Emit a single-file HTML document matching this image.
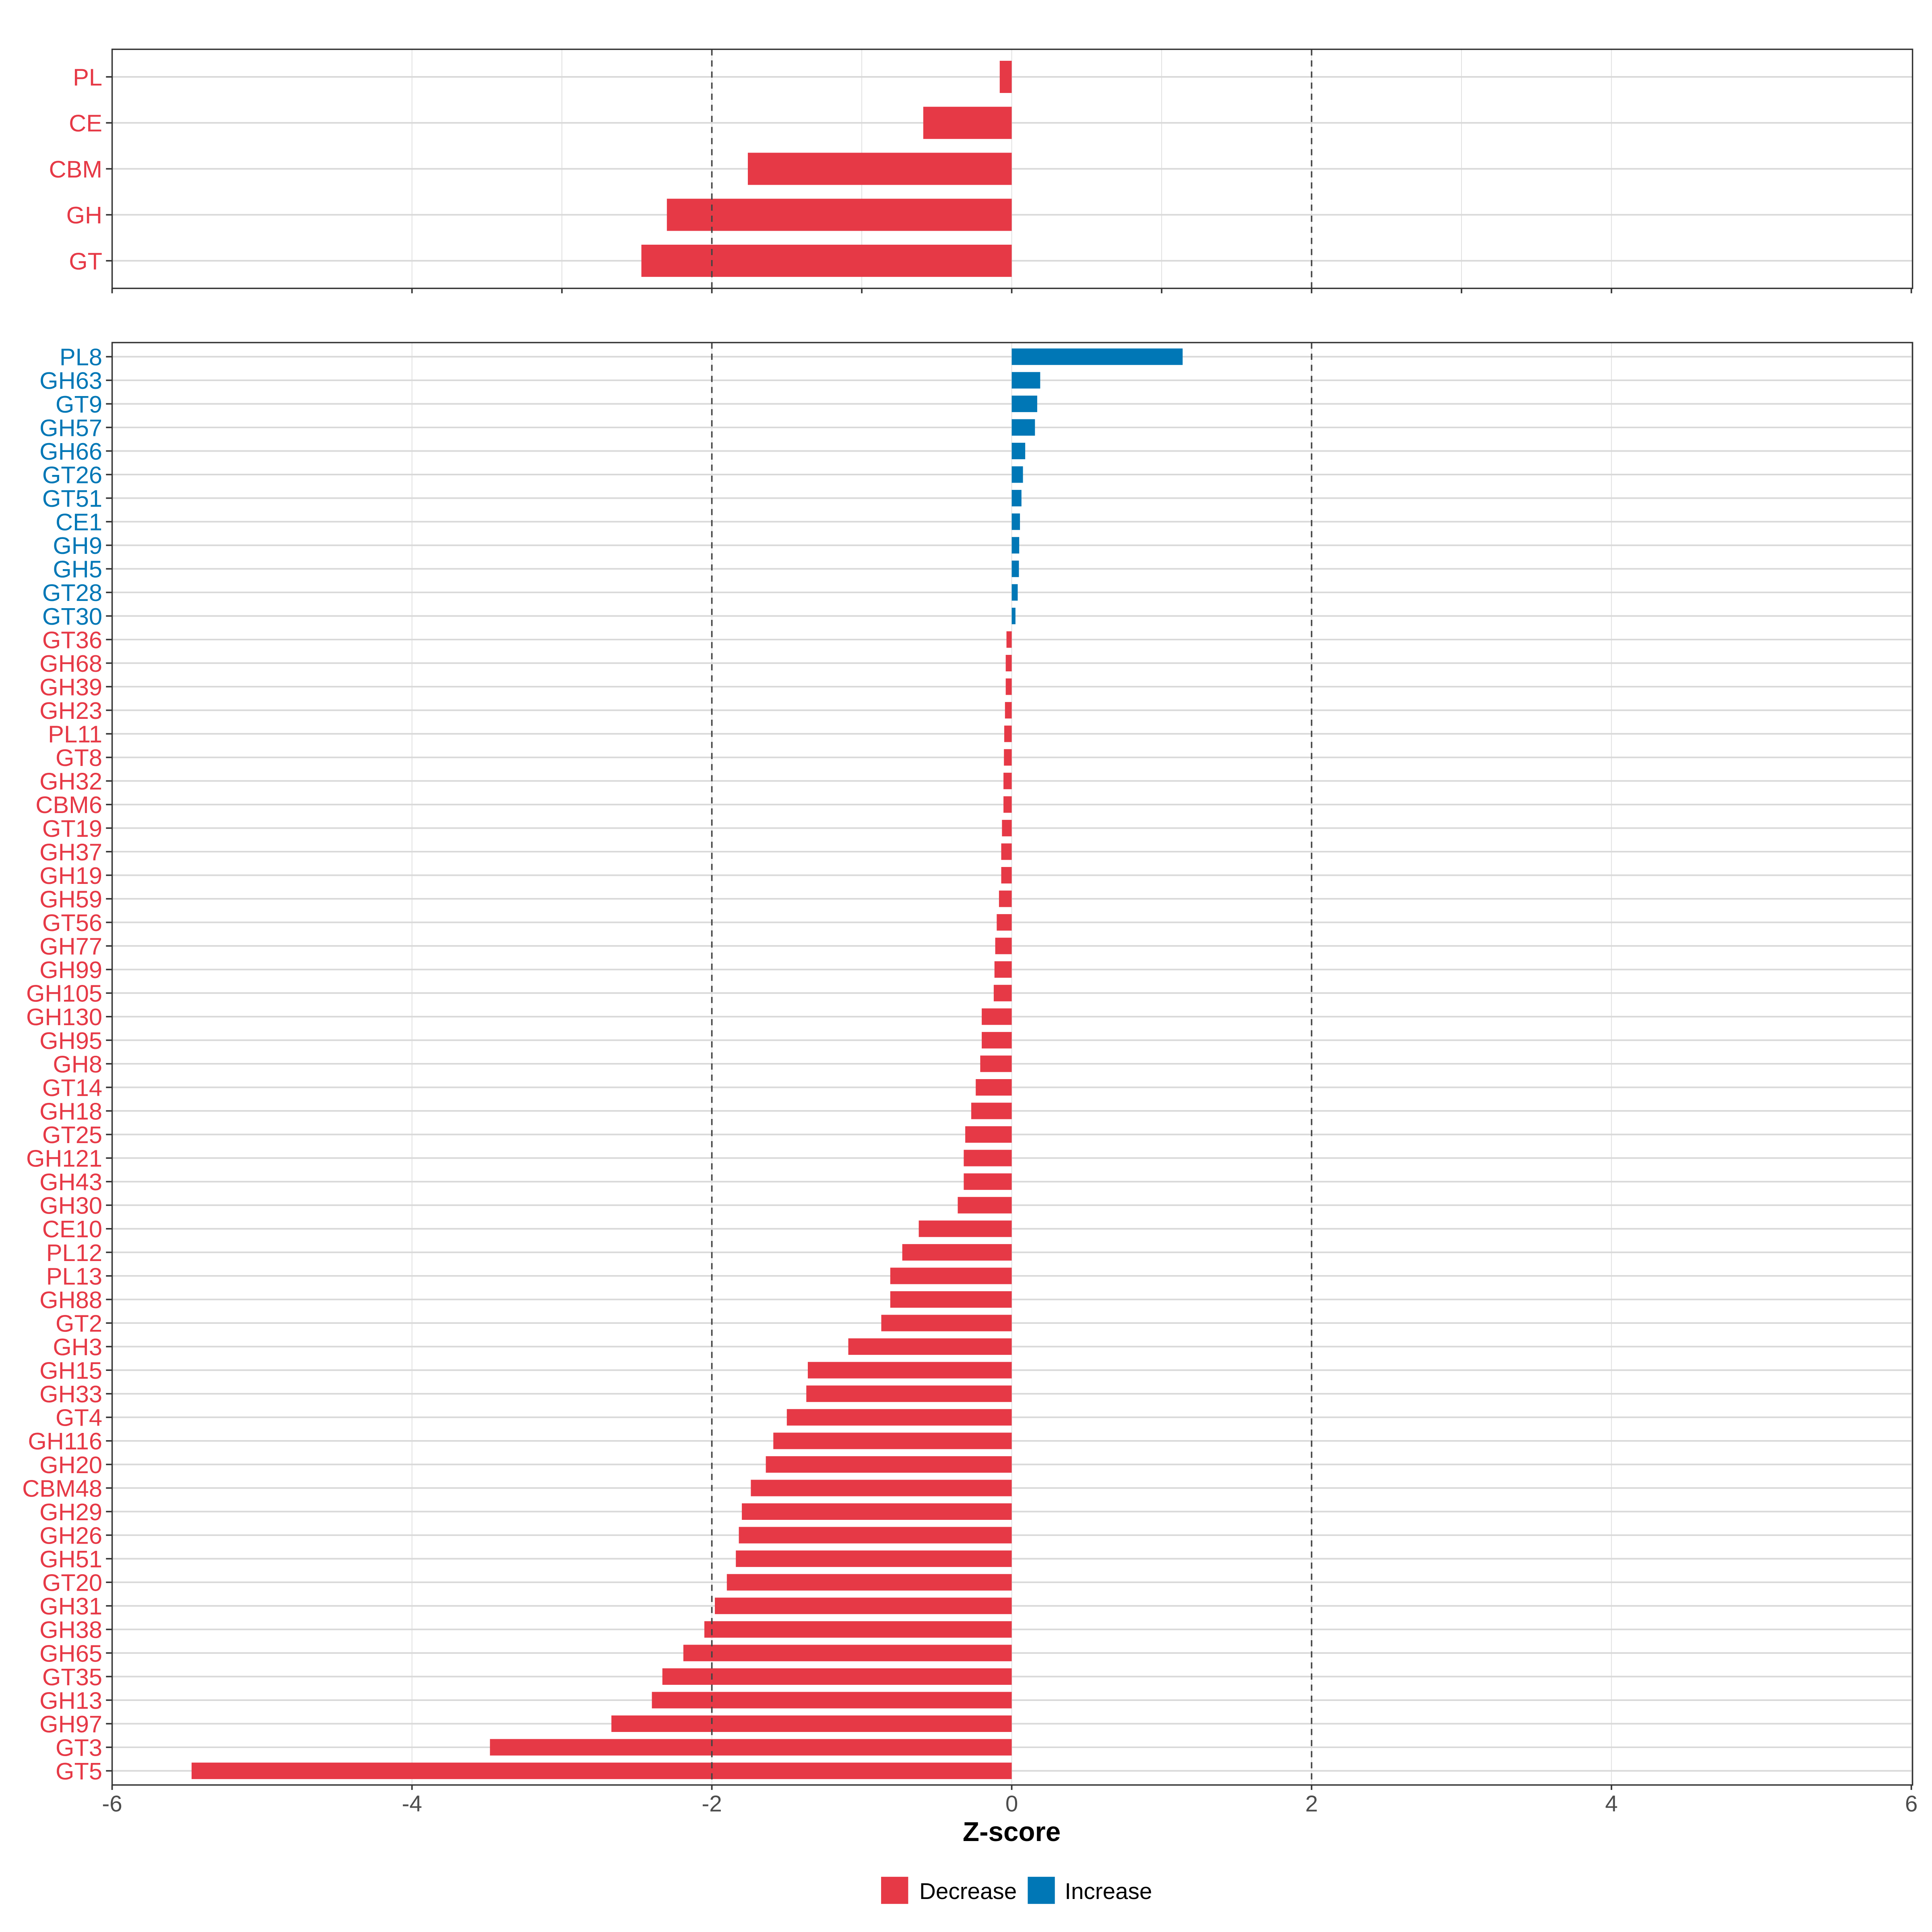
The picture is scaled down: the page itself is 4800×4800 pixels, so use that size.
<!DOCTYPE html>
<html><head><meta charset="utf-8"><style>html,body{margin:0;padding:0;background:#fff}svg{display:block}</style></head>
<body>
<svg id="chart" width="4800" height="4800" viewBox="0 0 1567.8 1567.8" xmlns="http://www.w3.org/2000/svg" font-family="Liberation Sans, sans-serif"></svg>
<script>
const topCats=["PL","CE","CBM","GH","GT"];
const topVals=[-0.08,-0.59,-1.76,-2.30,-2.47];
const botCats=["PL8","GH63","GT9","GH57","GH66","GT26","GT51","CE1","GH9","GH5","GT28","GT30","GT36","GH68","GH39","GH23","PL11","GT8","GH32","CBM6","GT19","GH37","GH19","GH59","GT56","GH77","GH99","GH105","GH130","GH95","GH8","GT14","GH18","GT25","GH121","GH43","GH30","CE10","PL12","PL13","GH88","GT2","GH3","GH15","GH33","GT4","GH116","GH20","CBM48","GH29","GH26","GH51","GT20","GH31","GH38","GH65","GT35","GH13","GH97","GT3","GT5"];
const botVals=[1.14,0.19,0.17,0.155,0.09,0.075,0.065,0.055,0.05,0.048,0.04,0.025,-0.035,-0.04,-0.04,-0.045,-0.05,-0.052,-0.055,-0.055,-0.065,-0.07,-0.07,-0.085,-0.1,-0.11,-0.115,-0.12,-0.2,-0.2,-0.21,-0.24,-0.27,-0.31,-0.32,-0.32,-0.36,-0.62,-0.73,-0.81,-0.81,-0.87,-1.09,-1.36,-1.37,-1.5,-1.59,-1.64,-1.74,-1.8,-1.82,-1.84,-1.9,-1.98,-2.05,-2.19,-2.33,-2.4,-2.67,-3.48,-5.47];
const xTicks=[-6,-4,-2,0,2,4,6];
const topGrid=[-4,-3,-2,-1,0,1,2,3,4];
const topTicks=[-6,-4,-3,-2,-1,0,1,2,3,4,6];
const refLines=[-2,2];
const legendLabels=["Decrease","Increase"];

const RED="#e63946",BLUE="#0077b6";
const svg=document.getElementById('chart');
const NS="http://www.w3.org/2000/svg";
function x(v){return 821+(v*121.67);}
function mk(tag,attrs,parent){const e=document.createElementNS(NS,tag);for(const k in attrs)e.setAttribute(k,attrs[k]);(parent||svg).appendChild(e);return e;}

function panel(name,cats,vals,y0,y1,grid,ticks){
  const g=mk('g',{});
  
  
  const n=cats.length, step=(y1-y0)/(n-1+1.2);
  function y(i){return y0+step*(0.6+i);}
  grid.forEach(v=>{const l=mk('line',{x1:x(v),x2:x(v),y1:y0,y2:y1,stroke:'#dedede','stroke-width':0.6},g);
    });
  cats.forEach((c,i)=>{const l=mk('line',{x1:91,x2:1552,y1:y(i),y2:y(i),stroke:'#d9d9d9','stroke-width':1.3},g);
    });
  cats.forEach((c,i)=>{const v=vals[i];const h=step*0.7;
    const r=mk('rect',{x:Math.min(x(0),x(v)),y:y(i)-h/2,width:Math.abs(x(v)-x(0)),height:h,fill:v<0?RED:BLUE},g);
    
    const t=mk('text',{x:83,y:y(i)+7,'text-anchor':'end','font-size':19.5,fill:v<0?RED:BLUE},g);t.textContent=c;
    
    const tk=mk('line',{x1:86,x2:91,y1:y(i),y2:y(i),stroke:'#333','stroke-width':1.2},g);
    
  });
  refLines.forEach(v=>{const l=mk('line',{x1:x(v),x2:x(v),y1:y0,y2:y1,stroke:'#444','stroke-width':1.2,'stroke-dasharray':'5,4'},g);
    });
  const b=mk('rect',{x:91,y:y0,width:1461,height:y1-y0,fill:'none',stroke:'#333','stroke-width':1.1},g);
  
  ticks.forEach(v=>{const l=mk('line',{x1:x(v),x2:x(v),y1:y1,y2:y1+4,stroke:'#333','stroke-width':1.2},g);
    });
}
panel('top-panel',topCats,topVals,40,234,topGrid,topTicks);
panel('bottom-panel',botCats,botVals,278,1448.5,xTicks,xTicks);

xTicks.forEach(v=>{const t=mk('text',{x:x(v),y:1470,'text-anchor':'middle','font-size':18.5,fill:'#4d4d4d'});t.textContent=String(v);
  });
const xt=mk('text',{x:821,y:1494,'text-anchor':'middle','font-size':22,'font-weight':'bold',fill:'#000'});xt.textContent='Z-score';


const lg=mk('g',{});


[[715,746,RED],[834,864,BLUE]].forEach((p,i)=>{
  const r=mk('rect',{x:p[0],y:1523,width:22,height:22,fill:p[2]},lg);
  
  const t=mk('text',{x:p[1],y:1541,'font-size':18.5,fill:'#000'},lg);t.textContent=legendLabels[i];
  
});
</script>
</body></html>
